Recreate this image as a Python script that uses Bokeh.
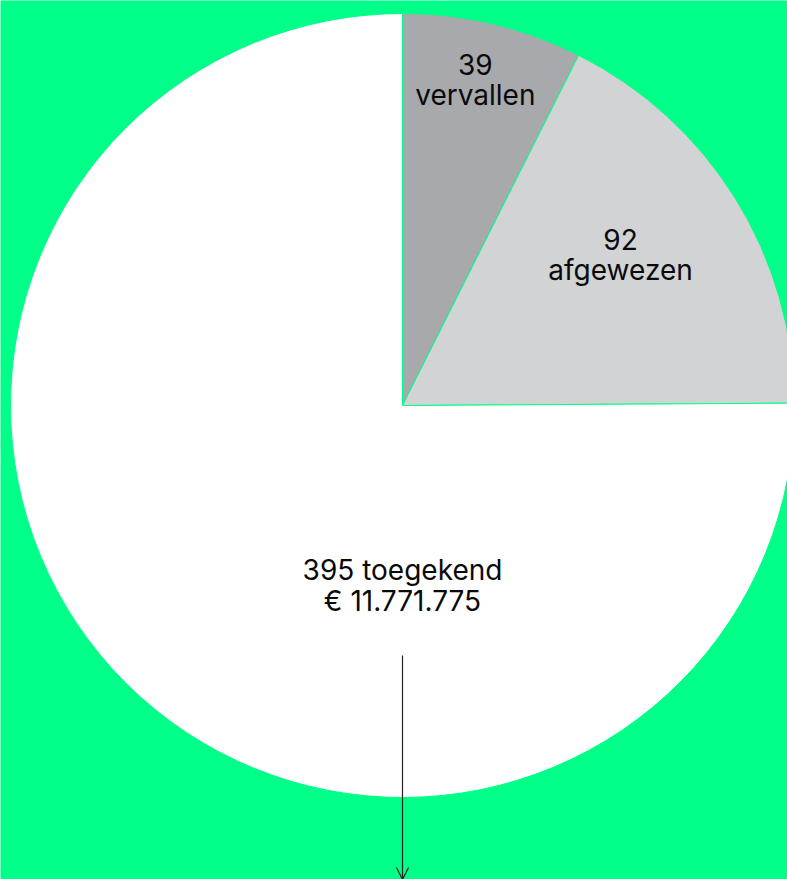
import math
from bokeh.plotting import figure
from bokeh.models import Range1d, Arrow, OpenHead, ColumnDataSource
from bokeh.core.properties import value
from bokeh.embed import file_html
from bokeh.resources import INLINE

# data
categories = ["vervallen", "afgewezen", "toegekend"]
counts = [39, 92, 395]
colors = ["#A7A9AC", "#D1D3D4", "#FFFFFF"]
label_top = ["39", "92", "395 toegekend"]
label_bottom = ["vervallen", "afgewezen", "€ 11.771.775"]

BG = "#00FF88"
W, H = 787, 879
cx, cy, R = 402, 474, 392

total = sum(counts)
starts, ends = [], []
a = math.pi / 2
for c in counts:
    starts.append(a)
    a -= 2 * math.pi * c / total
    ends.append(a)

p = figure(width=W, height=H, output_backend="svg", toolbar_location=None,
           x_range=Range1d(0, W), y_range=Range1d(0, H),
           background_fill_color=BG, border_fill_color=BG,
           outline_line_color=None, min_border=0)
p.axis.visible = False
p.grid.visible = False

src = ColumnDataSource(dict(x=[cx] * 3, y=[cy] * 3, start=starts, end=ends, color=colors))
p.wedge(x="x", y="y", radius=R, start_angle="start", end_angle="end", direction="clock",
        fill_color="color", line_color=BG, line_width=1, source=src)

# label positions: radial placement for the small slices, below centre for the main one
mids = [(s + e) / 2 for s, e in zip(starts, ends)]
lx, ly = [], []
for m, rf, off in zip(mids[:2], [0.852, 0.676], [0.75, 2.8]):
    ang = m + math.radians(off)
    lx.append(cx + R * rf * math.cos(ang))
    ly.append(cy + R * rf * math.sin(ang))
lx.append(cx)
ly.append(cy - 180)

font = value("Inter")
p.text(x=lx, y=[y + 15.5 for y in ly], text=label_top, text_font=font, text_font_size="28px",
       text_align="center", text_baseline="middle", text_color="#0A0A0A")
p.text(x=lx, y=[y - 15.5 for y in ly], text=label_bottom, text_font=font, text_font_size="28px",
       text_align="center", text_baseline="middle", text_color="#0A0A0A")

p.add_layout(Arrow(end=OpenHead(size=12, line_color="#222222", line_width=1.2),
                   x_start=cx, y_start=cy - 250, x_end=cx, y_end=0,
                   line_color="#222222", line_width=1.2))

html = file_html(p, INLINE)
html = html.replace("<body>", '<body style="background:%s">' % BG, 1)
open("out.html", "w").write(html)
